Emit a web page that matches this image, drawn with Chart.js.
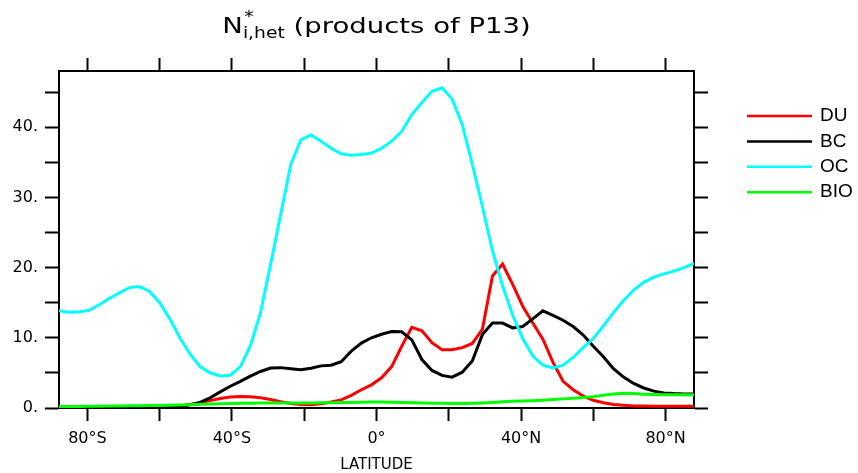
<!DOCTYPE html>
<html>
<head>
<meta charset="utf-8">
<script src="https://cdn.jsdelivr.net/npm/chart.js@4.4.1/dist/chart.umd.min.js"></script>
<style>
    html, body { margin: 0; padding: 0; background: #fff; }
    canvas { display: block; }
</style>
</head>
<body>
<canvas id="grafico" width="858" height="473"></canvas>
<script>
// latitudini della griglia gaussiana (64 punti)
const latitudini = [-87.86, -85.10, -82.31, -79.53, -76.74, -73.95, -71.16, -68.37, -65.58, -62.79,
    -60.00, -57.21, -54.42, -51.63, -48.84, -46.04, -43.25, -40.46, -37.67, -34.88,
    -32.09, -29.30, -26.51, -23.72, -20.93, -18.14, -15.35, -12.56, -9.77, -6.98,
    -4.19, -1.40, 1.40, 4.19, 6.98, 9.77, 12.56, 15.35, 18.14, 20.93,
    23.72, 26.51, 29.30, 32.09, 34.88, 37.67, 40.46, 43.25, 46.04, 48.84,
    51.63, 54.42, 57.21, 60.00, 62.79, 65.58, 68.37, 71.16, 73.95, 76.74,
    79.53, 82.31, 85.10, 87.86]

const du = [0.1, 0.1, 0.1, 0.1, 0.1, 0.1, 0.1, 0.12, 0.12, 0.15,
    0.15, 0.2, 0.3, 0.5, 0.75, 1.05, 1.35, 1.55, 1.65, 1.6,
    1.45, 1.2, 0.9, 0.65, 0.5, 0.45, 0.6, 0.85, 1.15, 1.8,
    2.6, 3.3, 4.3, 5.9, 8.8, 11.5, 11.0, 9.3, 8.3, 8.3,
    8.6, 9.2, 11.2, 18.8, 20.5, 17.6, 14.5, 12.1, 9.8, 6.5,
    3.8, 2.6, 1.7, 1.1, 0.75, 0.5, 0.38, 0.3, 0.28, 0.25,
    0.25, 0.25, 0.25, 0.25]

const bc = [0.1, 0.1, 0.1, 0.1, 0.1, 0.1, 0.1, 0.1, 0.1, 0.1,
    0.1, 0.15, 0.25, 0.45, 0.8, 1.45, 2.3, 3.1, 3.8, 4.55,
    5.2, 5.7, 5.75, 5.6, 5.45, 5.65, 6.0, 6.1, 6.6, 8.1,
    9.25, 10.0, 10.5, 10.9, 10.85, 9.7, 6.9, 5.35, 4.65, 4.4,
    5.1, 6.7, 10.45, 12.1, 12.1, 11.4, 11.6, 12.7, 13.85, 13.2,
    12.5, 11.6, 10.4, 8.8, 7.3, 5.6, 4.4, 3.5, 2.85, 2.4,
    2.15, 2.05, 2.0, 2.0]

const oc = [13.85, 13.65, 13.7, 13.9, 14.7, 15.6, 16.4, 17.15, 17.3, 16.6,
    15.0, 12.7, 10.0, 7.7, 5.9, 5.0, 4.55, 4.65, 5.9, 8.9,
    13.6, 20.5, 27.6, 34.7, 38.2, 38.9, 38.0, 37.0, 36.2, 36.0,
    36.1, 36.3, 37.0, 38.0, 39.4, 41.8, 43.5, 45.1, 45.6, 44.0,
    40.4, 34.7, 28.7, 22.4, 17.4, 13.2, 9.9, 7.4, 6.1, 5.7,
    6.1, 7.2, 8.6, 9.9, 11.7, 13.6, 15.3, 16.8, 17.9, 18.65,
    19.1, 19.5, 20.0, 20.6]

const bio = [0.2, 0.22, 0.23, 0.25, 0.26, 0.28, 0.3, 0.31, 0.32, 0.34,
    0.36, 0.4, 0.44, 0.48, 0.52, 0.56, 0.6, 0.63, 0.66, 0.68,
    0.7, 0.7, 0.7, 0.7, 0.7, 0.72, 0.74, 0.76, 0.78, 0.8,
    0.83, 0.85, 0.85, 0.83, 0.8, 0.76, 0.72, 0.69, 0.66, 0.65,
    0.65, 0.67, 0.72, 0.8, 0.88, 0.95, 1.0, 1.05, 1.12, 1.2,
    1.3, 1.4, 1.5, 1.62, 1.8, 2.0, 2.1, 2.05, 1.97, 1.92,
    1.9, 1.9, 1.9, 1.9]

const nomiSerie = ['DU', 'BC', 'OC', 'BIO']
const coloriSerie = ['#ff0000', '#000000', '#00ffff', '#00ff00']
const valoriSerie = [du, bc, oc, bio]

const latMin = -87.86
const latMax = 87.86
const yMax = 48

function etichettaLat(v) {
    if (v % 40 != 0) return ''
    if (v == 0) return '0°'
    return v < 0 ? (-v) + '°S' : v + '°N'
}

function etichettaY(v) {
    return v % 10 == 0 ? v + '.' : ''
}

const sfondoBianco = {
    id: 'sfondoBianco',
    beforeDraw(chart) {
        const ctx = chart.ctx
        ctx.save()
        ctx.fillStyle = '#fff'
        ctx.fillRect(0, 0, chart.width, chart.height)
        ctx.restore()
    }
}

// titolo con pedice e apice, il plugin title di Chart.js non li gestisce
// il font di NCL e' piu' largo, quindi allargo un po' in orizzontale
const titoloNcl = {
    id: 'titoloNcl',
    afterDraw(chart) {
        const ctx = chart.ctx
        const area = chart.chartArea
        const fontGrande = '22px "DejaVu Sans"'
        const fontPiccolo = '15px "DejaVu Sans"'
        const resto = ' (products of P13)'
        const allarga = 1.25

        ctx.save()
        ctx.fillStyle = '#000'
        ctx.textBaseline = 'alphabetic'
        ctx.font = fontGrande
        const wN = ctx.measureText('N').width
        const wResto = ctx.measureText(resto).width
        ctx.font = fontPiccolo
        const wSub = ctx.measureText('i,het').width

        const totale = (wN + wSub + wResto) * allarga
        ctx.translate((area.left + area.right) / 2 - totale / 2, 33)
        ctx.scale(allarga, 1)
        let x = 0
        ctx.font = fontGrande
        ctx.fillText('N', x, 0)
        x += wN
        ctx.font = fontPiccolo
        ctx.fillText('*', x + 1, -11)
        ctx.fillText('i,het', x, 5)
        x += wSub
        ctx.font = fontGrande
        ctx.fillText(resto, x, 0)
        ctx.restore()
    }
}

const legendaNcl = {
    id: 'legendaNcl',
    afterDraw(chart) {
        const ctx = chart.ctx
        const x0 = chart.chartArea.right + 53
        ctx.save()
        ctx.font = '19px "Liberation Sans"'
        ctx.textBaseline = 'middle'
        chart.data.datasets.forEach((ds, i) => {
            const y = 116 + i * 25.4
            ctx.strokeStyle = ds.borderColor
            ctx.lineWidth = 2.5
            ctx.beginPath()
            ctx.moveTo(x0, y)
            ctx.lineTo(x0 + 65, y)
            ctx.stroke()
            ctx.fillStyle = '#000'
            ctx.fillText(ds.label, x0 + 73, y)
        })
        ctx.restore()
    }
}

const fontTick = { family: 'DejaVu Sans', size: 16 }
const griglia = (lung) => ({
    drawOnChartArea: false,
    drawTicks: true,
    tickLength: lung,
    tickWidth: 2,
    tickColor: '#000'
})
const bordo = { display: true, color: '#000', width: 2 }

new Chart(document.getElementById('grafico'), {
    type: 'line',
    data: {
        datasets: nomiSerie.map((nome, i) => ({
            label: nome,
            data: latitudini.map((lat, j) => ({ x: lat, y: valoriSerie[i][j] })),
            borderColor: coloriSerie[i],
            backgroundColor: coloriSerie[i],
            borderWidth: 3,
            pointRadius: 0,
            tension: 0,
            fill: false,
            order: nomiSerie.length - i
        }))
    },
    options: {
        responsive: false,
        animation: false,
        devicePixelRatio: 1,
        layout: { padding: 0 },
        plugins: {
            legend: { display: false },
            tooltip: { enabled: false },
            title: { display: false }
        },
        scales: {
            x: {
                type: 'linear',
                position: 'bottom',
                min: latMin,
                max: latMax,
                ticks: {
                    stepSize: 20,
                    includeBounds: false,
                    autoSkip: false,
                    maxRotation: 0,
                    padding: 8,
                    color: '#000',
                    font: fontTick,
                    callback: etichettaLat
                },
                grid: griglia(13),
                border: bordo,
                title: {
                    display: true,
                    text: 'LATITUDE',
                    color: '#000',
                    font: { family: 'DejaVu Sans', size: 15, lineHeight: 1 },
                    padding: { top: 0, bottom: 0 }
                },
                afterFit(s) { s.height = 65 }
            },
            xSopra: {
                type: 'linear',
                position: 'top',
                min: latMin,
                max: latMax,
                ticks: { stepSize: 20, includeBounds: false, display: false },
                grid: griglia(13),
                border: bordo,
                afterFit(s) { s.height = 71 }
            },
            y: {
                type: 'linear',
                position: 'left',
                min: 0,
                max: yMax,
                ticks: {
                    stepSize: 5,
                    includeBounds: false,
                    autoSkip: false,
                    padding: 7,
                    color: '#000',
                    font: fontTick,
                    callback: etichettaY
                },
                grid: griglia(14),
                border: bordo,
                afterFit(s) { s.width = 59 }
            },
            yDestra: {
                type: 'linear',
                position: 'right',
                min: 0,
                max: yMax,
                ticks: { stepSize: 5, includeBounds: false, display: false },
                grid: griglia(14),
                border: bordo,
                afterFit(s) { s.width = 164 }
            }
        }
    },
    plugins: [sfondoBianco, titoloNcl, legendaNcl]
})
</script>
</body>
</html>
